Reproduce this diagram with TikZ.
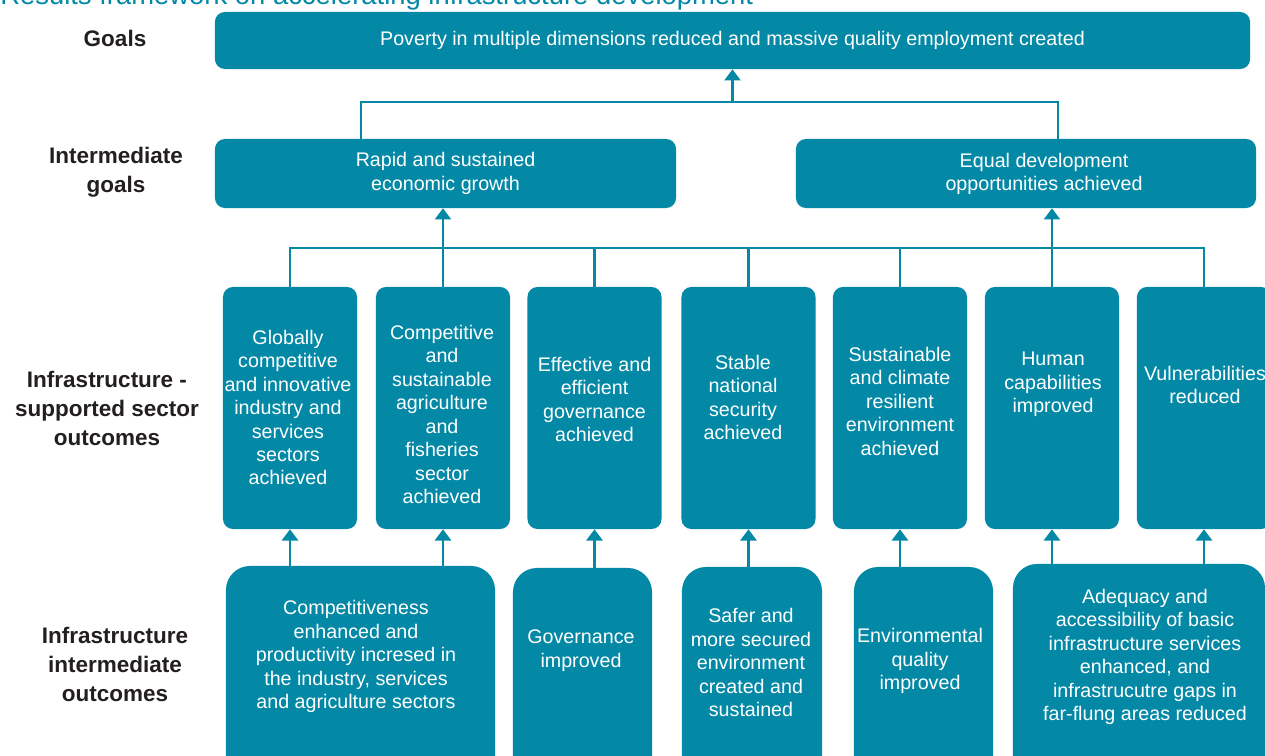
\documentclass[tikz,border=0pt]{standalone}
\usepackage{fontspec}
\setmainfont{Liberation Sans}
\usetikzlibrary{arrows.meta}
\definecolor{rfteal}{HTML}{0388A6}
\definecolor{rfblack}{HTML}{231F20}
\begin{document}
\begin{tikzpicture}[x=0.025cm, y=-0.025cm,
    box/.style={fill=rfteal, rounded corners=0.25cm, inner sep=0pt},
    lowbox/.style={box, rounded corners=0.6cm},
    txt/.style={text=white, align=center, inner sep=0pt, font=\fontsize{14}{16.7}\selectfont},
    lvl/.style={text=rfblack, align=center, font=\fontsize{16}{20.6}\selectfont\bfseries},
    link/.style={draw=rfteal, line width=1.8pt},
    up/.style={link, -{Triangle[width=0.4cm,length=0.28cm]}}]
    % Frame of the page
    \clip (0,0) rectangle (1265,756);

    % Title (cut at the top edge)
    \node[anchor=base west, inner sep=0pt, text=rfteal, font=\fontsize{19.5}{22}\selectfont] (title) at (0,5)
        {Results framework on accelerating infrastructure development};

    % Row labels
    \node[lvl] (lgoal) at (115,38) {Goals};
    \node[lvl] (linter) at (116,172.5) {Intermediate\\goals};
    \node[lvl] (lsector) at (107,408.5) {Infrastructure -\\supported sector\\outcomes};
    \node[lvl] (lintout) at (115,664) {Infrastructure\\intermediate\\outcomes};

    % Goal and intermediate goals
    \node[box, minimum width=25.875cm, minimum height=1.425cm] (goal) at (732.5,40.5) {};
    \node[txt] (goalt) at (goal.center)
        {Poverty in multiple dimensions reduced and massive quality employment created};
    \node[box, minimum width=11.525cm, minimum height=1.725cm] (ig1) at (445.5,173.5) {};
    \node[txt] (ig1t) at (ig1.center) {Rapid and sustained\\economic growth};
    \node[box, minimum width=11.5cm, minimum height=1.725cm] (ig2) at (1026,173.5) {};
    \node[txt] (ig2t) at (1044,174) {Equal development\\opportunities achieved};

    % Sector outcomes
    \foreach \i/\x in {1/290,2/443,3/594.5,4/748.5,5/900,6/1052,7/1204}
        \node[box, minimum width=3.35cm, minimum height=6.05cm] (col\i) at (\x,408) {};
    \node[txt] (col1t) at (288,407.5) {Globally\\competitive\\and innovative\\industry and\\services\\sectors\\achieved};
    \node[txt] (col2t) at (442,414.5) {Competitive\\and\\sustainable\\agriculture\\and\\fisheries\\sector\\achieved};
    \node[txt] (col3t) at (594.5,399.5) {Effective and\\efficient\\governance\\achieved};
    \node[txt] (col4t) at (743,397.5) {Stable\\national\\security\\achieved};
    \node[txt] (col5t) at (900,401) {Sustainable\\and climate\\resilient\\environment\\achieved};
    \node[txt] (col6t) at (1053,384.5) {Human\\capabilities\\improved};
    \node[txt] (col7t) at (1205,385) {Vulnerabilities\\reduced};

    % Intermediate outcomes (cut at the bottom edge)
    \node[lowbox, minimum width=6.725cm, minimum height=5.6cm] (low1) at (360.5,678) {};
    \node[txt] (low1t) at (356,656.5) {Competitiveness\\enhanced and\\productivity incresed in\\the industry, services\\and agriculture sectors};
    \node[lowbox, minimum width=3.475cm, minimum height=5.55cm] (low2) at (582.5,679) {};
    \node[txt] (low2t) at (581,650.5) {Governance\\improved};
    \node[lowbox, minimum width=3.5cm, minimum height=5.575cm] (low3) at (752,678.5) {};
    \node[txt] (low3t) at (751,662.5) {Safer and\\more secured\\environment\\created and\\sustained};
    \node[lowbox, minimum width=3.475cm, minimum height=5.575cm] (low4) at (923.5,678.5) {};
    \node[txt] (low4t) at (920,661) {Environmental\\quality\\improved};
    \node[lowbox, minimum width=6.3cm, minimum height=5.65cm] (low5) at (1139,677) {};
    \node[txt] (low5t) at (1145,657) {Adequacy and\\accessibility of basic\\infrastructure services\\enhanced, and\\infrastrucutre gaps in\\far-flung areas reduced};

    % Connectors to the goal
    \coordinate (j1) at (361,102);
    \coordinate (j2) at (1058,102);
    \draw[link] (ig1.north -| j1) -- (j1) -- (j2) -- (ig2.north -| j2);
    \draw[up] (j1 -| goal) -- (goal.south);

    % Connectors to the intermediate goals
    \coordinate (bus) at (0,248);
    \draw[link] (col1.north) -- (col1.north |- bus) -- (col7.north |- bus) -- (col7.north);
    \foreach \i in {2,...,6}
        \draw[link] (col\i.north) -- (col\i.north |- bus);
    \draw[up] (col2.north |- bus) -- (ig1.south -| col2.north);
    \draw[up] (col6.north |- bus) -- (ig2.south -| col6.north);

    % Connectors from the intermediate outcomes
    \draw[up] (low1.north -| col1) -- (col1.south);
    \draw[up] (low1.north -| col2) -- (col2.south);
    \draw[up] (low2.north -| col3) -- (col3.south);
    \draw[up] (low3.north -| col4) -- (col4.south);
    \draw[up] (low4.north -| col5) -- (col5.south);
    \draw[up] (low5.north -| col6) -- (col6.south);
    \draw[up] (low5.north -| col7) -- (col7.south);
\end{tikzpicture}
\end{document}
